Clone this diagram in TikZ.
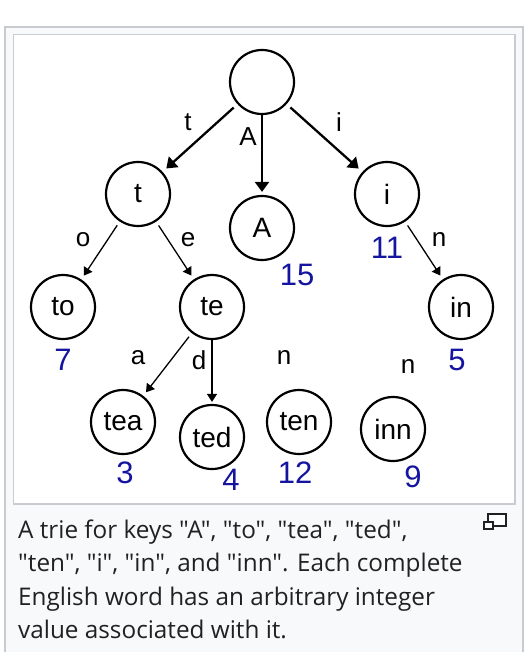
\documentclass[tikz,border=0pt]{standalone}
\usepackage{fontspec}
\setmainfont{Liberation Sans}[Ligatures=TeXOff]
\newfontfamily\capfont{Open Sans}[Ligatures=TeXOff]
\usetikzlibrary{positioning, arrows.meta}
\definecolor{numblue}{HTML}{1414A0}
\definecolor{framegray}{HTML}{C8CCD1}
\definecolor{panelgray}{HTML}{F8F9FA}
\definecolor{captext}{HTML}{202122}
\tikzset{line/.style={draw, line width=2.3pt, shorten <=5pt, shorten >=5pt, -{Triangle[length=10pt, width=14pt]}}}
\tikzset{thinline/.style={draw, line width=1.3pt, shorten <=4.5pt, shorten >=4.5pt, -{Triangle[length=8pt, width=10pt]}}}

\begin{document}
\begin{tikzpicture}[on grid]
\tikzstyle{state} = [circle, draw, line width=2.2pt, minimum size=64pt, inner sep=0pt, font=\fontsize{28}{32}\selectfont]
\tikzstyle{letter} = [inner sep=0pt, font=\fontsize{26}{30}\selectfont]
\tikzstyle{value} = [inner sep=0pt, text=numblue, font=\fontsize{31}{35}\selectfont]
\tikzstyle{caption} = [inner sep=0pt, anchor=base west, text=captext, font=\capfont\fontsize{24.3}{33}\selectfont]

\useasboundingbox (0,0) rectangle (526pt,-652pt);
% frames
\fill[panelgray] (4.5pt,-27pt) rectangle (523pt,-660pt);
\draw[framegray, line width=2pt] (4.5pt,-660pt) |- (523pt,-27pt) -- (523pt,-660pt);
\draw[framegray, line width=1.3pt, fill=white] (13.5pt,-34.5pt) rectangle (515pt,-504pt);

% trie nodes
\node [state] (root) at (262pt,-82pt) {};
\node [state, below left=112pt and 124pt of root](key_t){t};
\node [state, below=146pt of root](key_A){A};
\node [state, below right=112pt and 125pt of root](key_i){i};
\node [state, below left=113pt and 75pt of key_t](key_to){to};
\node [state, below right=113pt and 74pt of key_t](key_te){te};
\node [state, below right=113pt and 74pt of key_i](key_in){in};
\node [state, below left=115pt and 89pt of key_te](key_tea){tea};
\node [state, below=130pt of key_te](key_ted){ted};
\node [state, below right=115pt and 87pt of key_te](key_ten){ten};
\node [state, below left=122pt and 68pt of key_in](key_inn){inn};

% edge letters
\node [letter, below left=40pt and 74pt of root](edge_t){t};
\node [letter, below left=55pt and 14pt of root](edge_A){A};
\node [letter, below right=40pt and 77pt of root](edge_i){i};
\node [letter, below left=46pt and 55pt of key_t](edge_o){o};
\node [letter, below right=46pt and 50pt of key_t](edge_e){e};
\node [letter, below right=46pt and 52pt of key_i](edge_in){n};
\node [letter, below left=51pt and 74pt of key_te](edge_a){a};
\node [letter, below left=53pt and 13pt of key_te](edge_d){d};
\node [letter, below right=51pt and 72pt of key_te](edge_ten){n};
\node [letter, below left=60pt and 53pt of key_in](edge_inn){n};

% values
\node [value, below=54pt of key_i](val_i){11};
\node [value, below right=47pt and 35pt of key_A](val_A){15};
\node [value, below=53pt of key_to](val_to){7};
\node [value, below left=53pt and 4pt of key_in](val_in){5};
\node [value, below right=51pt and 2pt of key_tea](val_tea){3};
\node [value, below right=43pt and 19pt of key_ted](val_ted){4};
\node [value, below left=51pt and 4pt of key_ten](val_ten){12};
\node [value, below right=48pt and 20pt of key_inn](val_inn){9};

\path [line] (root) -- (key_t);
\path [line, shorten <=0pt, shorten >=3pt] (root) -- (key_A);
\path [line] (root) -- (key_i);
\path [thinline] (key_t) -- (key_to);
\path [thinline] (key_t) -- (key_te);
\path [thinline] (key_i) -- (key_in);
\path [thinline] (key_te) -- (key_tea);
\path [thinline, shorten <=0pt, shorten >=2pt] (key_te) -- (key_ted);

% caption
\node [caption] (cap1) at (18pt,-538pt) {A trie for keys "A", "to", "tea", "ted",};
\node [caption] (cap2) at (18pt,-571.5pt) {"ten", "i", "in", and "inn". Each complete};
\node [caption] (cap3) at (18pt,-605pt) {English word has an arbitrary integer};
\node [caption] (cap4) at (18pt,-638pt) {value associated with it.};
\draw [captext, line width=1.3pt, fill=white] (488pt,-514pt) rectangle (506pt,-526pt);
\draw [captext, line width=1.3pt, fill=white] (484pt,-522pt) rectangle (493pt,-529pt);

\end{tikzpicture}
\end{document}
